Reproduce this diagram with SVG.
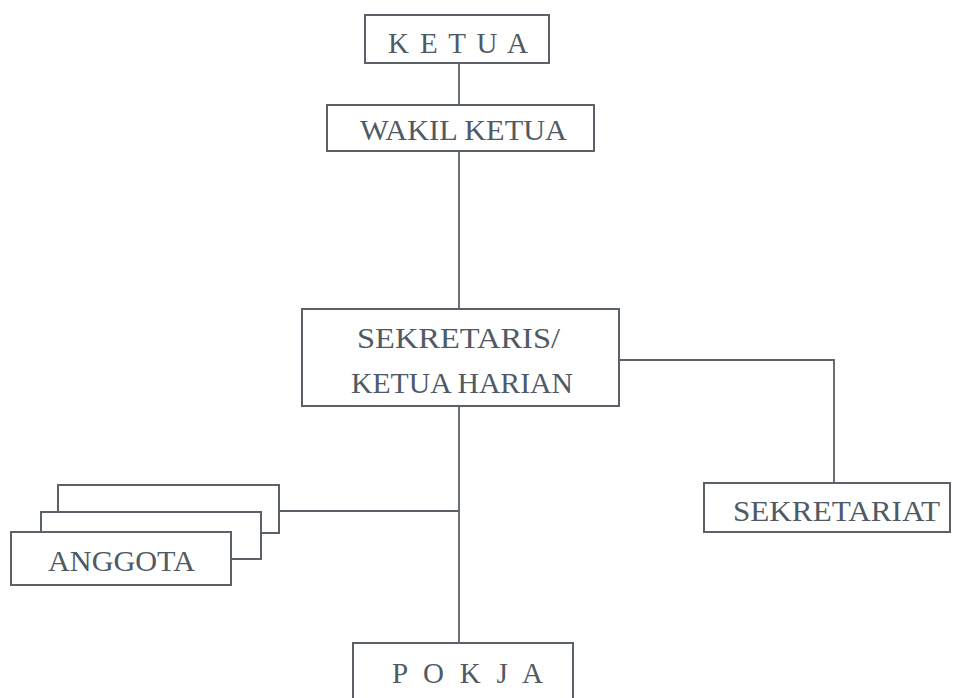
<svg xmlns="http://www.w3.org/2000/svg" width="956" height="698" viewBox="0 0 956 698">
<style>
.box{fill:#fff;stroke:#5b6168;stroke-width:2}
.ln{fill:none;stroke:#5b6168;stroke-width:1.8}
.t{font-family:"Liberation Serif","Times New Roman",serif;font-size:29px;fill:#4f5a64}
</style>
<rect width="956" height="698" fill="#fff"/>
<g id="connectors">
<line class="ln" x1="459" y1="63" x2="459" y2="105"/>
<line class="ln" x1="459" y1="151" x2="459" y2="309"/>
<line class="ln" x1="459" y1="406" x2="459" y2="643"/>
<polyline class="ln" points="619,360 834,360 834,483"/>
<line class="ln" x1="279" y1="511" x2="459" y2="511"/>
</g>
<g id="ketua">
<rect class="box" x="365" y="15" width="184" height="48"/>
<text class="t" x="388" y="53" textLength="140" lengthAdjust="spacing">K E T U A</text>
</g>
<g id="wakil-ketua">
<rect class="box" x="327" y="105" width="267" height="46"/>
<text class="t" x="360" y="140" textLength="207" lengthAdjust="spacingAndGlyphs">WAKIL KETUA</text>
</g>
<g id="sekretaris">
<rect class="box" x="302" y="309" width="317" height="97"/>
<text class="t" x="357" y="348" textLength="203" lengthAdjust="spacingAndGlyphs">SEKRETARIS/</text>
<text class="t" x="351" y="393" textLength="222" lengthAdjust="spacingAndGlyphs">KETUA HARIAN</text>
</g>
<g id="sekretariat">
<rect class="box" x="704" y="483" width="246" height="49"/>
<text class="t" x="733" y="521" textLength="207" lengthAdjust="spacingAndGlyphs">SEKRETARIAT</text>
</g>
<g id="anggota">
<rect class="box" x="58" y="485" width="221" height="48"/>
<rect class="box" x="41" y="512" width="220" height="47"/>
<rect class="box" x="11" y="532" width="220" height="53"/>
<text class="t" x="48" y="571" textLength="147" lengthAdjust="spacingAndGlyphs">ANGGOTA</text>
</g>
<g id="pokja">
<rect class="box" x="353" y="643" width="220" height="60"/>
<text class="t" x="392" y="683" textLength="151" lengthAdjust="spacing">P O K J A</text>
</g>
</svg>
